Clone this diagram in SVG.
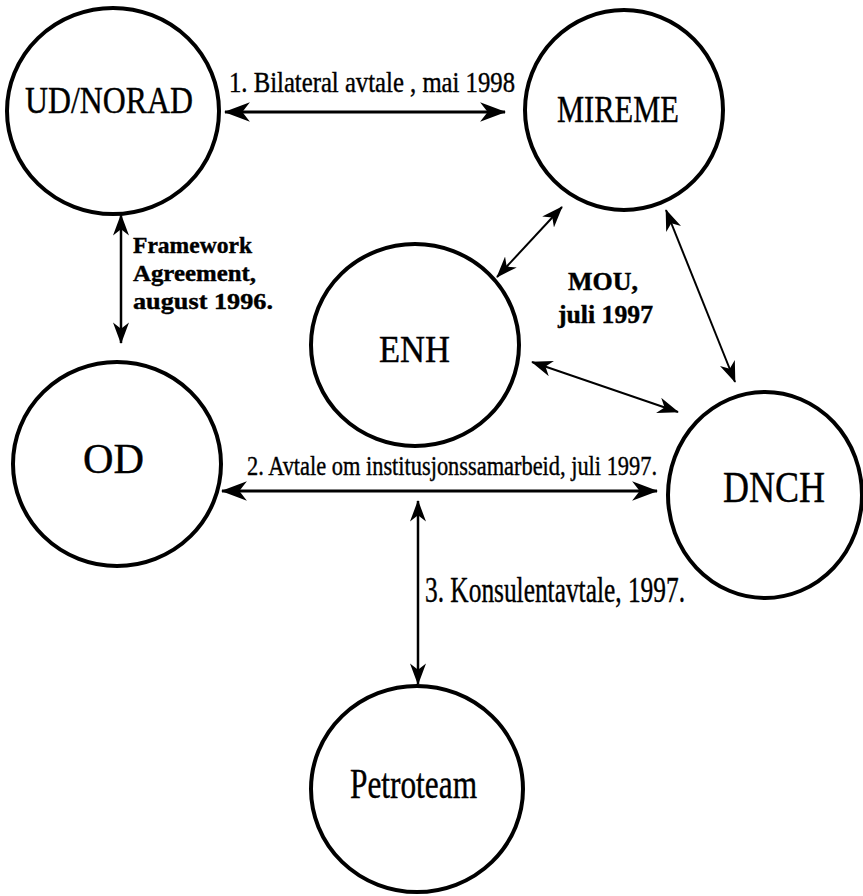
<svg xmlns="http://www.w3.org/2000/svg" width="863" height="896" viewBox="0 0 863 896">
<style>
.node{fill:#fff;stroke:#000;stroke-width:4}
.lbl{font-family:"Liberation Serif","Times New Roman",serif;fill:#000;stroke:#000;stroke-width:0.4}
.edge{stroke:#000;fill:none}
</style>
<defs>
<marker id="ah" viewBox="0 0 24 18" markerUnits="userSpaceOnUse" markerWidth="26" markerHeight="20" refX="23" refY="9" orient="auto-start-reverse">
<path d="M0,0 L24,9 L0,18 L7,9 Z" fill="#000"/>
</marker>
<marker id="ahs" viewBox="0 0 24 18" markerUnits="userSpaceOnUse" markerWidth="22" markerHeight="16" refX="23" refY="9" orient="auto-start-reverse">
<path d="M0,0 L24,9 L0,18 L7,9 Z" fill="#000"/>
</marker>
</defs>
<rect width="863" height="896" fill="#fff"/>
<g id="connectors">
<line class="edge" x1="225" y1="112" x2="505" y2="112" stroke-width="3" marker-start="url(#ah)" marker-end="url(#ah)"/>
<line class="edge" x1="121" y1="215" x2="121" y2="343" stroke-width="2.5" marker-start="url(#ahs)" marker-end="url(#ahs)"/>
<line class="edge" x1="562" y1="207" x2="497" y2="277" stroke-width="2" marker-start="url(#ahs)" marker-end="url(#ahs)"/>
<line class="edge" x1="666" y1="210" x2="735" y2="382" stroke-width="2" marker-start="url(#ahs)" marker-end="url(#ahs)"/>
<line class="edge" x1="532" y1="362" x2="678" y2="412" stroke-width="2" marker-start="url(#ahs)" marker-end="url(#ahs)"/>
<line class="edge" x1="222" y1="491" x2="657" y2="491" stroke-width="3" marker-start="url(#ah)" marker-end="url(#ah)"/>
<line class="edge" x1="418" y1="501" x2="418" y2="684" stroke-width="2.5" marker-start="url(#ahs)" marker-end="url(#ahs)"/>
<text class="lbl" x="229" y="92" font-size="29" textLength="286" lengthAdjust="spacingAndGlyphs">1. Bilateral avtale , mai 1998</text>
<text class="lbl" font-size="23" font-weight="bold"><tspan x="133" y="253" textLength="119" lengthAdjust="spacingAndGlyphs">Framework</tspan><tspan x="133" y="281" textLength="123" lengthAdjust="spacingAndGlyphs">Agreement,</tspan><tspan x="133" y="309" textLength="140" lengthAdjust="spacingAndGlyphs">august 1996.</tspan></text>
<text class="lbl" font-size="25" font-weight="bold"><tspan x="568" y="290" textLength="70" lengthAdjust="spacingAndGlyphs">MOU,</tspan><tspan x="558" y="323" textLength="95" lengthAdjust="spacingAndGlyphs">juli 1997</tspan></text>
<text class="lbl" transform="translate(247,475) scale(0.8,1)" x="0" y="0" font-size="28">2. Avtale om institusjonssamarbeid, juli 1997.</text>
<text class="lbl" x="425" y="602" font-size="36" textLength="260" lengthAdjust="spacingAndGlyphs">3. Konsulentavtale, 1997.</text>
</g>
<g id="ud-norad">
<ellipse class="node" cx="113" cy="111" rx="106" ry="103"/>
<text class="lbl" x="25" y="113" font-size="37" textLength="168" lengthAdjust="spacingAndGlyphs">UD/NORAD</text>
</g>
<g id="mireme">
<ellipse class="node" cx="624" cy="110" rx="99" ry="100"/>
<text class="lbl" x="557" y="122" font-size="37" textLength="122" lengthAdjust="spacingAndGlyphs">MIREME</text>
</g>
<g id="enh">
<ellipse class="node" cx="415" cy="345" rx="104" ry="101"/>
<text class="lbl" x="379" y="362" font-size="38" textLength="71" lengthAdjust="spacingAndGlyphs">ENH</text>
</g>
<g id="od">
<ellipse class="node" cx="117" cy="464" rx="104" ry="102"/>
<text class="lbl" x="83" y="473" font-size="42" textLength="61" lengthAdjust="spacingAndGlyphs">OD</text>
</g>
<g id="dnch">
<ellipse class="node" cx="765" cy="495" rx="97" ry="103"/>
<text class="lbl" x="723" y="502" font-size="44" textLength="102" lengthAdjust="spacingAndGlyphs">DNCH</text>
</g>
<g id="petroteam">
<ellipse class="node" cx="417" cy="789" rx="106" ry="103"/>
<text class="lbl" x="350" y="798" font-size="42" textLength="127" lengthAdjust="spacingAndGlyphs">Petroteam</text>
</g>
</svg>
